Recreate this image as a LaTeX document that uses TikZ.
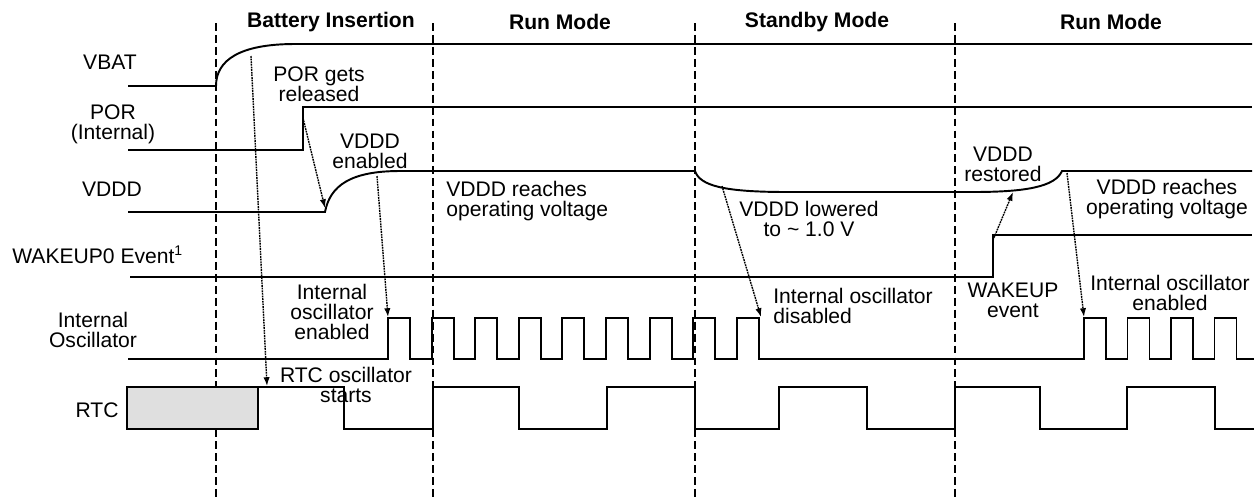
\documentclass[tikz,border=0pt]{standalone}
\usepackage{fontspec}
\setmainfont{Liberation Sans}
\usetikzlibrary{arrows.meta}

\begin{document}
\begin{tikzpicture}[
    x=0.02cm, y=-0.02cm,
    wave/.style={line width=1.1pt, line join=miter},
    phase/.style={line width=0.8pt, dash pattern=on 4.5pt off 2.3pt},
    signame/.style={align=center, inner sep=0pt, font=\fontsize{12}{11.5}\selectfont},
    remark/.style={align=center, inner sep=0pt, font=\fontsize{12}{11.5}\selectfont},
    modehead/.style={inner sep=0pt, font=\fontsize{12}{11.5}\selectfont\bfseries},
    cause/.style={-{Latex[length=5pt, width=3.6pt]}, line width=0.8pt, dash pattern=on 1pt off 0.5pt},
]
\useasboundingbox (0,0) rectangle (1257,498);

\foreach \x in {216,433,695,955}
    \draw[phase] (\x,23) -- (\x,498);

\node[modehead] (ins)  at (331,22)  {Battery Insertion};
\node[modehead] (run1) at (560,22)  {Run Mode};
\node[modehead] (stby) at (817,22)  {Standby Mode};
\node[modehead] (run2) at (1111,22) {Run Mode};

\node[signame] (vbat) at (110,62)  {VBAT};
\node[signame] (por)  at (113,124) {POR\\(Internal)};
\node[signame] (vddd) at (112,189) {VDDD};
\node[signame, anchor=base west] (wake) at (12,263) {WAKEUP0 Event\textsuperscript{1}};
\node[signame] (osc)  at (93,330)  {Internal\\Oscillator};
\node[signame] (rtc)  at (97,410)  {RTC};

\draw[wave] (128,86) -- (216,86) .. controls (216,60) and (240,44) .. (295,44) -- (1252,44);
\draw[wave] (128,150) -| (303,107) -- (1252,107);
\draw[wave] (128,212) -- (325,212) .. controls (330,186) and (350,171) .. (400,171)
    -- (695,171) .. controls (700,186) and (725,192) .. (787,192)
    -- (973,192) .. controls (1025,192) and (1055,187) .. (1062,171) -- (1252,171);
\draw[wave] (130,277) -| (993,235) -- (1252,235);
\draw[wave] (128,359)
    foreach \k in {0,...,8} { -- ({388+43.6*\k},359) |- ({410+43.6*\k},318) -- ({410+43.6*\k},359) }
    -- (761,359) -- (1084,359)
    foreach \k in {0,...,3} { -- ({1084+43.5*\k},359) |- ({1106+43.5*\k},318) -- ({1106+43.5*\k},359) }
    -- (1254,359);
\draw[wave, fill=gray!25] (127,387) rectangle (258,429);
\draw[wave] (258,387) -| (344,429) -| (433,387) -| (519,429) -| (607,387) -| (695,429)
    -| (779,387) -| (867,429) -| (955,387) -| (1040,429) -| (1127,387) -| (1215,429) -- (1254,429);

\node[remark] (porrel)   at (319,84)  {POR gets\\released};
\node[remark] (vdden)    at (370,151) {VDDD\\enabled};
\node[remark, anchor=west, align=left] (reach1) at (446,201) {VDDD reaches\\operating voltage};
\node[remark] (lowered)  at (809,219) {VDDD lowered\\to \textasciitilde{} 1.0 V};
\node[remark] (restored) at (1003,164) {VDDD\\restored};
\node[remark] (reach2)   at (1167,199) {VDDD reaches\\operating voltage};
\node[remark] (oscen1)   at (332,312) {Internal\\oscillator\\enabled};
\node[remark] (rtcst)    at (346,385) {RTC oscillator\\starts};
\node[remark, anchor=west, align=left] (oscdis) at (773,306) {Internal oscillator\\disabled};
\node[remark] (wakeev)   at (1013,300) {WAKEUP\\event};
\node[remark] (oscen2)   at (1170,293) {Internal oscillator\\enabled};

\coordinate (vbatT) at (251,56);
\coordinate (rtcS)  at (267,386);
\coordinate (porT)  at (303,118);
\coordinate (vdddS) at (325,208);
\coordinate (vdddT) at (377,176);
\coordinate (oscS)  at (388,317);
\coordinate (lowT)  at (722,186);
\coordinate (oscE)  at (761,317);
\coordinate (wakeT) at (993,240);
\coordinate (restS) at (1013,192);
\coordinate (restT) at (1067,173);
\coordinate (oscR)  at (1084,317);
\draw[cause] (vbatT) -- (rtcS);
\draw[cause] (porT) -- (vdddS);
\draw[cause] (vdddT) -- (oscS);
\draw[cause] (lowT) -- (oscE);
\draw[cause] (wakeT) -- (restS);
\draw[cause] (restT) -- (oscR);
\end{tikzpicture}
\end{document}
